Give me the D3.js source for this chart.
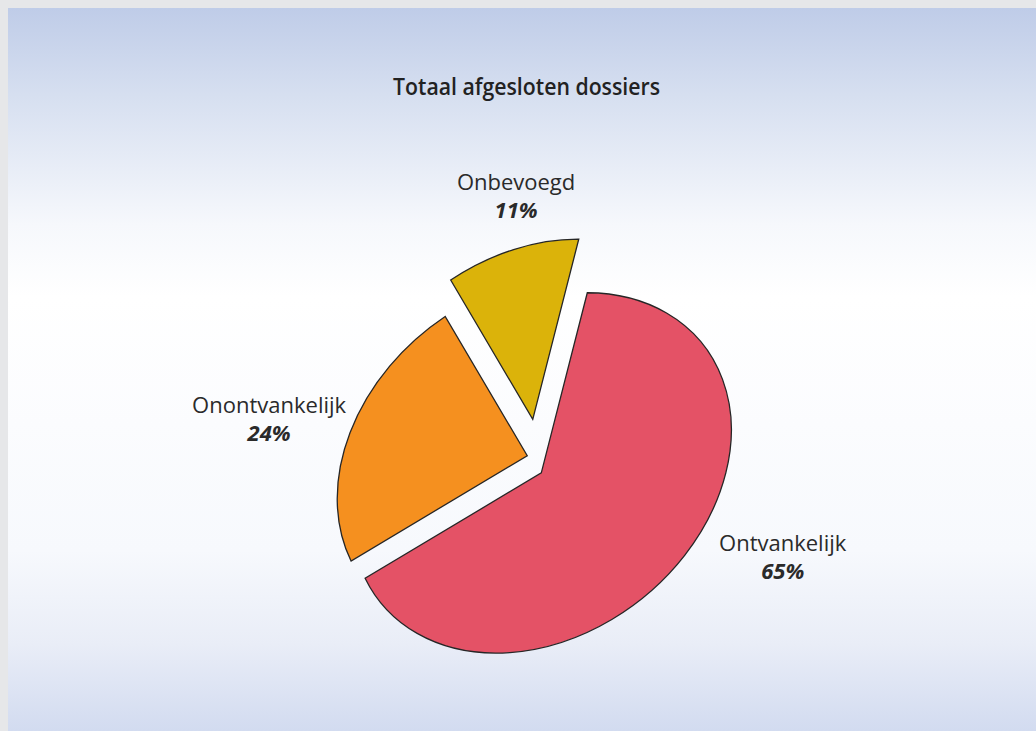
<!DOCTYPE html>
<html>
<head>
<meta charset="utf-8">
<script src="https://cdn.jsdelivr.net/npm/d3@7"></script>
<style>
	body { margin: 0; background: #e6e7e9; }
	svg { display: block; }
</style>
</head>
<body>
<div class="pie-plot"></div>
<script>
// data
const categories = ['Ontvankelijk', 'Onontvankelijk', 'Onbevoegd'];
const shares = [65, 24, 11];
const shareLabels = ['65%', '24%', '11%'];
const title = 'Totaal afgesloten dossiers';

// styling / layout
const colors = ['#e45266', '#f5901f', '#dbb30a'];
const width = 1036;
const height = 731;
const center = [541.3, 472.9];
const tilt = -38.7;          // rotation of the ellipse, degrees
const radiusX = 206.5;       // long half-axis
const radiusY = 161;         // short half-axis
const startDeg = 46;
const explode = [[0, 0], [-0.1, -13.8], [13.0, -29.3]];   // in pie units (r = 100)
const labelNudge = [[98, -4], [-81, -19], [2.5, -60]];

makePie();

function makePie() {
	const svg = d3.select('.pie-plot')
		.append('svg')
		.attr('width', width)
		.attr('height', height)

	const defs = svg.append('defs');
	const grad = defs.append('linearGradient')
		.attr('id', 'bg')
		.attr('x1', 0).attr('y1', 0)
		.attr('x2', 0).attr('y2', 1);
	[[0, '#bfcce8'], [0.12, '#d6dff0'], [0.3, '#f6f8fc'], [0.4, '#ffffff'],
	 [0.75, '#f7f9fd'], [0.88, '#e9edf7'], [1, '#d2dbf0']].forEach(function(s) {
		grad.append('stop').attr('offset', s[0]).attr('stop-color', s[1]);
	});

	svg.append('rect')
		.attr('x', 8)
		.attr('y', 8)
		.attr('width', width - 8)
		.attr('height', height - 8)
		.attr('fill', 'url(#bg)');

	svg.append('text')
		.text(title)
		.attr('x', 526.5)
		.attr('y', 95)
		.attr('text-anchor', 'middle')
		.attr('font-family', 'Open Sans, sans-serif')
		.attr('font-weight', 600)
		.attr('font-size', '23px')
		.attr('textLength', 267)
		.attr('lengthAdjust', 'spacingAndGlyphs')
		.attr('fill', '#222');

	const pie = d3.pie()
		.sort(null)
		.startAngle(startDeg * Math.PI / 180)
		.endAngle(startDeg * Math.PI / 180 + 2 * Math.PI);
	const slices = pie(shares);

	const arc = d3.arc()
		.innerRadius(0)
		.outerRadius(100);

	const g = svg.append('g')
		.attr('transform', 'translate(' + center[0] + ',' + center[1] + ') rotate(' + tilt + ') scale(' + (radiusX / 100) + ',' + (radiusY / 100) + ')');

	g.selectAll('path')
		.data(slices)
		.enter()
		.append('path')
		.attr('d', arc)
		.attr('transform', function(d, i) {
			return 'translate(' + explode[i][0] + ',' + explode[i][1] + ')';
		})
		.attr('fill', function(d, i) { return colors[i]; })
		.attr('stroke', '#262626')
		.attr('stroke-width', 1.3)
		.attr('vector-effect', 'non-scaling-stroke');

	// maps a point of the pie frame to the screen
	function toScreen(x, y) {
		const a = tilt * Math.PI / 180;
		const sx = x * radiusX / 100;
		const sy = y * radiusY / 100;
		return [center[0] + Math.cos(a) * sx - Math.sin(a) * sy,
				center[1] + Math.sin(a) * sx + Math.cos(a) * sy];
	}

	const anchors = slices.map(function(d, i) {
		const mid = (d.startAngle + d.endAngle) / 2;
		const p = toScreen(Math.sin(mid) * 100 + explode[i][0], -Math.cos(mid) * 100 + explode[i][1]);
		return [p[0] + labelNudge[i][0], p[1] + labelNudge[i][1]];
	});

	svg.selectAll('.name')
		.data(categories)
		.enter()
		.append('text')
		.attr('class', 'name')
		.text(function(d) { return d; })
		.attr('x', function(d, i) { return anchors[i][0]; })
		.attr('y', function(d, i) { return anchors[i][1]; })
		.attr('text-anchor', 'middle')
		.attr('font-family', 'Open Sans, sans-serif')
		.attr('font-size', '22px')
		.attr('fill', '#2a2a2a');

	svg.selectAll('.pct')
		.data(shareLabels)
		.enter()
		.append('text')
		.attr('class', 'pct')
		.text(function(d) { return d; })
		.attr('x', function(d, i) { return anchors[i][0]; })
		.attr('y', function(d, i) { return anchors[i][1] + 28; })
		.attr('text-anchor', 'middle')
		.attr('font-family', 'Open Sans, sans-serif')
		.attr('font-size', '22px')
		.attr('font-weight', 'bold')
		.attr('font-style', 'italic')
		.attr('fill', '#2a2a2a');
}
</script>
</body>
</html>
